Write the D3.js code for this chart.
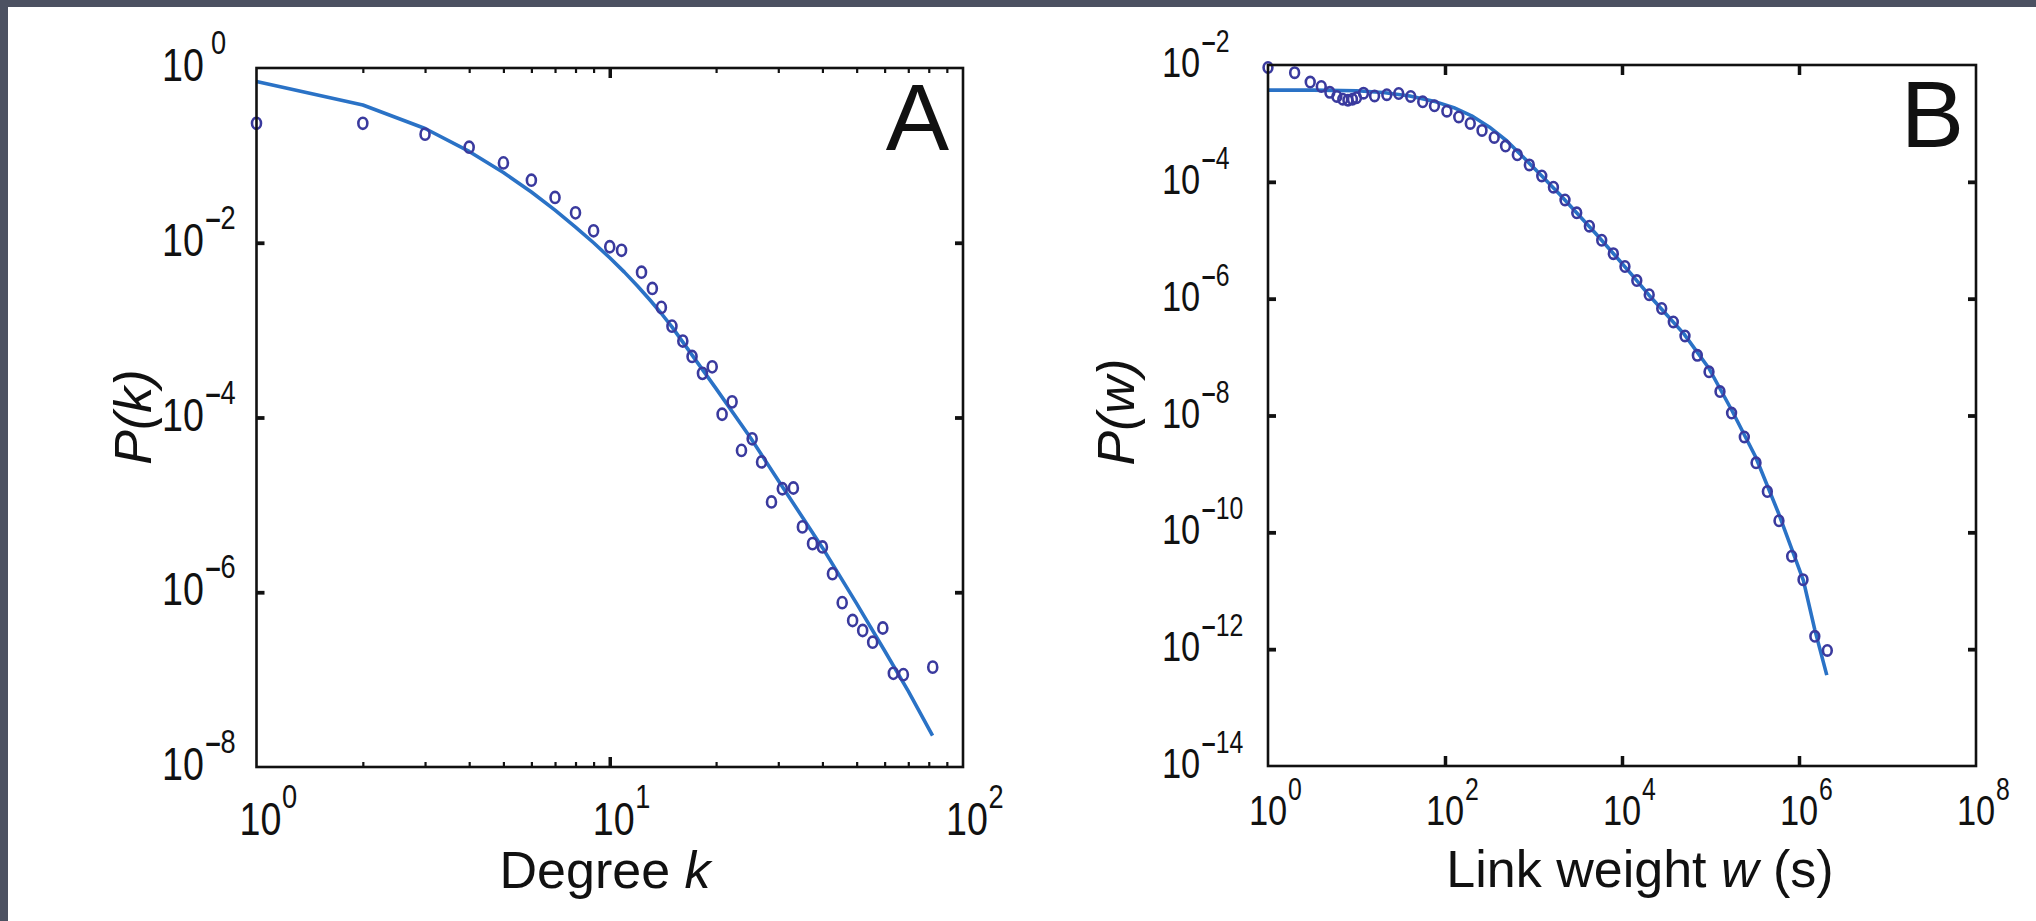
<!DOCTYPE html>
<html>
<head>
<meta charset="utf-8">
<script src="https://cdn.jsdelivr.net/npm/d3@7"></script>
<style>
  html, body { margin: 0; padding: 0; background: #4c5161; overflow: hidden; }
</style>
</head>
<body>
<div id="chart"></div>
<script>
// Panel A: degree distribution
const DEGREE_K = [1, 2, 3, 4, 5, 6, 7, 8, 9, 10, 10.8, 12.3, 13.2, 14.0, 15.0, 16.1, 17.1, 18.3, 19.5, 20.8,
    22.2, 23.6, 25.3, 26.9, 28.7, 30.8, 33.1, 35.1, 37.5, 40.0, 42.7, 45.5, 48.7, 52.0, 55.5, 59.3, 63.5, 67.8, 82.1];
const DEGREE_P = [2.33e-1, 2.33e-1, 1.75e-1, 1.24e-1, 8.2e-2, 5.2e-2, 3.3e-2, 2.2e-2, 1.37e-2, 9.0e-3,
    8.2e-3, 4.6e-3, 3.0e-3, 1.82e-3, 1.11e-3, 7.5e-4, 5.0e-4, 3.2e-4, 3.8e-4, 1.09e-4,
    1.51e-4, 4.2e-5, 5.7e-5, 3.1e-5, 1.08e-5, 1.53e-5, 1.56e-5, 5.6e-6, 3.6e-6, 3.3e-6,
    1.63e-6, 7.6e-7, 4.75e-7, 3.65e-7, 2.68e-7, 3.9e-7, 1.18e-7, 1.14e-7, 1.39e-7];
const FIT_K = [1, 2, 3, 4, 5, 6, 7, 8, 9, 10, 11, 12, 13, 14, 15, 20, 25, 30, 40, 50, 60, 70, 82];
const FIT_PK = [7.0e-1, 3.77e-1, 2.03e-1, 1.11e-1, 6.37e-2, 3.81e-2, 2.36e-2, 1.51e-2, 1.0e-2, 6.73e-3,
    4.61e-3, 3.18e-3, 2.21e-3, 1.55e-3, 1.09e-3, 2.14e-4, 5.9e-5, 1.9e-5, 3.24e-6, 7.4e-7,
    2.14e-7, 7.4e-8, 2.29e-8];

// Panel B: link weight distribution
const WEIGHT_W = [1, 2, 3, 4, 5, 6, 7, 8, 9, 10, 12, 16, 22, 30, 41, 56, 76, 105, 143, 193,
    262, 360, 483, 656, 897, 1240, 1680, 2270, 3080, 4280, 5900, 7980, 1.08e4, 1.47e4, 2.03e4,
    2.81e4, 3.80e4, 5.15e4, 7.10e4, 9.62e4, 1.28e5, 1.73e5, 2.41e5, 3.27e5, 4.39e5,
    5.94e5, 8.26e5, 1.11e6, 1.51e6, 2.09e6];
const WEIGHT_P = [9.1e-3, 7.4e-3, 5.1e-3, 4.3e-3, 3.4e-3, 2.9e-3, 2.6e-3, 2.5e-3, 2.6e-3, 2.75e-3,
    3.3e-3, 2.95e-3, 3.1e-3, 3.25e-3, 2.9e-3, 2.35e-3, 2.0e-3, 1.62e-3, 1.29e-3, 1.0e-3,
    7.6e-4, 5.75e-4, 4.1e-4, 2.9e-4, 1.95e-4, 1.26e-4, 8.1e-5, 4.9e-5, 2.95e-5, 1.74e-5,
    1.0e-5, 5.9e-6, 3.55e-6, 2.04e-6, 1.17e-6, 6.8e-7, 4.0e-7, 2.3e-7, 1.07e-7, 5.6e-8,
    2.57e-8, 1.1e-8, 4.3e-9, 1.55e-9, 5.0e-10, 1.58e-10, 3.9e-11, 1.55e-11, 1.66e-12, 9.5e-13];
const FIT_W = [1, 3.16, 10, 20, 40, 79, 126, 200, 316, 501, 794, 1259, 1995, 3162, 5012, 7943,
    1.26e4, 2.0e4, 3.16e4, 5.01e4, 9.55e4, 1.74e5, 3.24e5, 5.89e5, 1.12e6, 1.51e6, 2.06e6];
const FIT_PW = [3.72e-3, 3.72e-3, 3.63e-3, 3.39e-3, 2.95e-3, 2.34e-3, 1.86e-3, 1.35e-3, 8.7e-4, 5.0e-4,
    2.5e-4, 1.23e-4, 6.0e-5, 2.82e-5, 1.32e-5, 6.0e-6, 2.69e-6, 1.17e-6, 5.4e-7, 2.5e-7,
    6.5e-8, 1.23e-8, 1.95e-9, 2.1e-10, 1.51e-11, 2.14e-12, 3.6e-13];

// ticks
const A_X_LABELS = [1, 10, 100];
const A_X_MAJOR = [10];
const A_X_MINOR = [2, 3, 4, 5, 6, 7, 8, 9, 20, 30, 40, 50, 60, 70, 80, 90];
const A_Y_LABELS = [1, 1e-2, 1e-4, 1e-6, 1e-8];
const A_Y_MAJOR = [1e-2, 1e-4, 1e-6];
const B_X_LABELS = [1, 1e2, 1e4, 1e6, 1e8];
const B_X_MAJOR = [1e2, 1e4, 1e6];
const B_Y_LABELS = [1e-2, 1e-4, 1e-6, 1e-8, 1e-10, 1e-12, 1e-14];
const B_Y_MAJOR = [1e-4, 1e-6, 1e-8, 1e-10, 1e-12];

const W = 2036, H = 921;
const FONT = "'Liberation Sans', Arial, Helvetica, sans-serif";
const LINE_COLOR = "#2a72c6";
const DOT_COLOR = "#3a3a9e";
const INK = "#111";

const svg = d3.select("#chart").append("svg")
    .attr("width", W).attr("height", H)
    .style("display", "block")
    .attr("font-family", FONT);

svg.append("rect").attr("width", W).attr("height", H).attr("fill", "#4c5161");
svg.append("rect").attr("x", 8).attr("y", 7).attr("width", W - 8).attr("height", H - 7).attr("fill", "#fff");

function styleAxis(g, width) {
    g.select(".domain").remove();
    g.selectAll(".tick text").remove();
    g.selectAll(".tick line").attr("stroke", INK).attr("stroke-width", width);
}

function frameTicks(x, y, values, axis, size, width) {
    const [x0, x1] = x.range();
    const [y0, y1] = y.range();
    if (axis === "x") {
        svg.append("g").attr("transform", `translate(0,${y0})`)
            .call(d3.axisBottom(x).tickValues(values).tickSize(-size).tickFormat(""))
            .call(g => styleAxis(g, width));
        svg.append("g").attr("transform", `translate(0,${y1})`)
            .call(d3.axisTop(x).tickValues(values).tickSize(-size).tickFormat(""))
            .call(g => styleAxis(g, width));
    } else {
        svg.append("g").attr("transform", `translate(${x0},0)`)
            .call(d3.axisLeft(y).tickValues(values).tickSize(-size).tickFormat(""))
            .call(g => styleAxis(g, width));
        svg.append("g").attr("transform", `translate(${x1},0)`)
            .call(d3.axisRight(y).tickValues(values).tickSize(-size).tickFormat(""))
            .call(g => styleAxis(g, width));
    }
}

// "10" with a superscript exponent, horizontally condensed like the original
function powLabel(px, py, value, size, supSize, rise) {
    const exp = Math.round(Math.log10(value));
    const t = svg.append("g")
        .attr("transform", `translate(${px},${py}) scale(0.8,1)`)
        .append("text")
        .attr("font-size", size)
        .attr("fill", INK);
    t.append("tspan").text("10");
    if (exp < 0) {
        t.append("tspan").attr("dx", 2).attr("dy", -rise).attr("font-size", supSize)
            .attr("font-weight", "bold").text("\u2013");
        t.append("tspan").attr("font-size", supSize).text(String(-exp));
    } else {
        t.append("tspan").attr("dx", exp === 0 && py < 200 ? 9 : 1).attr("dy", -rise)
            .attr("font-size", supSize).text(String(exp));
    }
}

function drawPanel(cfg) {
    const { x, y } = cfg;
    const [x0, x1] = x.range();
    const [y0, y1] = y.range();

    const line = d3.line().x(d => x(d[0])).y(d => y(d[1]));
    svg.append("path")
        .datum(d3.zip(cfg.fitX, cfg.fitY))
        .attr("d", line)
        .attr("fill", "none")
        .attr("stroke", LINE_COLOR)
        .attr("stroke-width", 3.6)
        .attr("stroke-linejoin", "round");

    svg.append("g")
        .selectAll("ellipse")
        .data(d3.zip(cfg.dataX, cfg.dataY))
        .enter()
        .append("ellipse")
        .attr("cx", d => x(d[0]))
        .attr("cy", d => y(d[1]))
        .attr("rx", cfg.rx)
        .attr("ry", cfg.ry)
        .attr("fill", "none")
        .attr("stroke", DOT_COLOR)
        .attr("stroke-width", 2.6);

    svg.append("rect")
        .attr("x", x0).attr("y", y1)
        .attr("width", x1 - x0).attr("height", y0 - y1)
        .attr("fill", "none")
        .attr("stroke", INK)
        .attr("stroke-width", 2.6);

    if (cfg.xMinor) frameTicks(x, y, cfg.xMinor, "x", 5, 2.2);
    frameTicks(x, y, cfg.xMajor, "x", 10, 3.5);
    frameTicks(x, y, cfg.yMajor, "y", 8, 3.8);

    cfg.xLabels.forEach(v => powLabel(x(v) + cfg.xLabelDx, cfg.xLabelY, v, cfg.size, cfg.supSize, cfg.rise));
    cfg.yLabels.forEach(v => powLabel(cfg.yLabelX, y(v) + cfg.yLabelDy, v, cfg.size, cfg.supSize, cfg.rise));

    const xt = svg.append("text")
        .attr("x", cfg.xTitleX).attr("y", cfg.xTitleY)
        .attr("text-anchor", "middle")
        .attr("font-size", 52)
        .attr("fill", INK);
    cfg.xTitle.forEach(([s, it]) => xt.append("tspan").attr("font-style", it ? "italic" : "normal").text(s));

    svg.append("text")
        .attr("transform", `translate(${cfg.yTitleX},${cfg.yTitleY}) rotate(-90)`)
        .attr("text-anchor", "middle")
        .attr("font-size", 52)
        .attr("font-style", "italic")
        .attr("fill", INK)
        .text(cfg.yTitle);

    svg.append("text")
        .attr("x", cfg.letterX).attr("y", cfg.letterY)
        .attr("text-anchor", "end")
        .attr("font-size", 95)
        .attr("fill", INK)
        .text(cfg.letter);
}

drawPanel({
    x: d3.scaleLog().domain([1, 100]).range([256.5, 963]),
    y: d3.scaleLog().domain([1e-8, 1]).range([767, 68]),
    dataX: DEGREE_K, dataY: DEGREE_P, fitX: FIT_K, fitY: FIT_PK,
    rx: 4.5, ry: 5.6,
    xMinor: A_X_MINOR, xMajor: A_X_MAJOR, yMajor: A_Y_MAJOR,
    xLabels: A_X_LABELS, yLabels: A_Y_LABELS,
    size: 47, supSize: 34, rise: 27,
    xLabelDx: -17, xLabelY: 835,
    yLabelX: 162, yLabelDy: 13,
    xTitle: [["Degree ", false], ["k", true]], xTitleX: 605, xTitleY: 888,
    yTitle: "P(k)", yTitleX: 151, yTitleY: 417,
    letter: "A", letterX: 949, letterY: 150
});

drawPanel({
    x: d3.scaleLog().domain([1, 1e8]).range([1268, 1976]),
    y: d3.scaleLog().domain([1e-14, 1e-2]).range([766, 65]),
    dataX: WEIGHT_W, dataY: WEIGHT_P, fitX: FIT_W, fitY: FIT_PW,
    rx: 4.4, ry: 5.2,
    xMinor: null, xMajor: B_X_MAJOR, yMajor: B_Y_MAJOR,
    xLabels: B_X_LABELS, yLabels: B_Y_LABELS,
    size: 43, supSize: 31, rise: 25,
    xLabelDx: -19, xLabelY: 825,
    yLabelX: 1162, yLabelDy: 12,
    xTitle: [["Link weight ", false], ["w", true], [" (s)", false]], xTitleX: 1640, xTitleY: 887,
    yTitle: "P(w)", yTitleX: 1134, yTitleY: 412,
    letter: "B", letterX: 1964, letterY: 147
});
</script>
</body>
</html>
